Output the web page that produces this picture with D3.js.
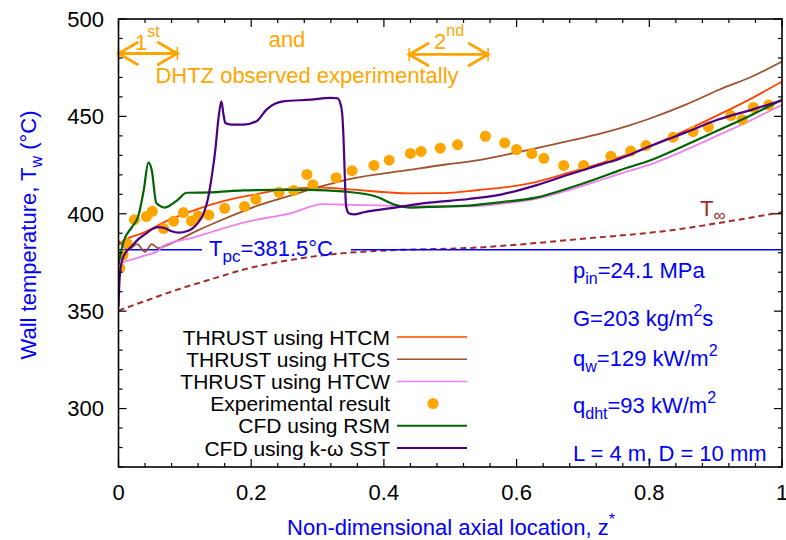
<!DOCTYPE html>
<html><head><meta charset="utf-8">
<script src="https://cdn.jsdelivr.net/npm/d3@7"></script>
<style>body{margin:0;background:#fff} text{font-family:"Liberation Sans",Arial,Helvetica,sans-serif}</style>
</head><body><svg id="c" width="786" height="540"></svg>
<script>
// ---------- data ----------
const zExp = [0.002,0.007,0.013,0.024,0.042,0.051,0.068,0.083,0.098,0.110,0.120,0.136,0.160,0.190,0.207,0.242,0.264,0.284,0.293,0.328,0.352,0.385,0.408,0.440,0.456,0.485,0.511,0.553,0.582,0.600,0.623,0.641,0.671,0.701,0.742,0.772,0.795,0.836,0.866,0.889,0.923,0.940,0.957,0.980];
const tExp = [372.1,378.8,384.8,397.0,398.6,401.3,392.4,396.2,400.6,396.3,398.9,399.4,402.8,403.8,407.4,411.0,412.0,420.2,414.9,418.5,422.1,424.8,427.5,431.0,432.0,433.7,435.5,439.8,436.4,433.0,430.9,428.5,424.8,424.8,429.6,432.2,435.0,439.3,442.2,444.6,450.4,448.3,454.6,455.9];

const zHTCM = [0,0.003,0.037,0.078,0.118,0.158,0.208,0.258,0.308,0.348,0.44,0.49,0.543,0.578,0.629,0.679,0.729,0.769,0.80,0.855,0.905,0.955,1.0];
const tHTCM = [384,385,390.2,397.1,402.3,406.5,410.0,412.9,413.4,412.5,410.5,410.6,412.2,413.4,416.3,421.1,426.2,430.6,434.6,442.8,450.9,459.4,467.9];

const zHTCS = [0,0.015,0.028,0.040,0.050,0.060,0.070,0.088,0.118,0.158,0.208,0.258,0.308,0.348,0.438,0.493,0.543,0.578,0.629,0.679,0.729,0.769,0.80,0.855,0.905,0.955,1.0];
const tHTCS = [386.1,381.8,384.4,380.4,384.4,382.3,383.5,386.1,391.2,397.2,404.0,409.2,414.3,417.8,422.5,425.3,427.5,429.9,433.6,437.4,441.4,445.3,448.8,456.0,463.7,470.5,478.2];

const zHTCW = [0,0.038,0.06,0.067,0.113,0.188,0.263,0.307,0.35,0.39,0.44,0.528,0.578,0.629,0.679,0.729,0.755,0.805,0.855,0.905,0.955,1.0];
const tHTCW = [374.5,378.4,381,383.5,387.8,395.5,400.6,405,404.6,404.3,403.9,403.8,405.2,407.6,412.2,417.6,420.5,425.8,432.8,440.5,448.3,456];

const zRSM = [0,0.003,0.008,0.02,0.03,0.038,0.045,0.05,0.057,0.07,0.087,0.103,0.138,0.188,0.238,0.288,0.338,0.388,0.418,0.44,0.468,0.528,0.578,0.629,0.679,0.729,0.755,0.805,0.855,0.905,0.955,1.0];
const tRSM = [374,379,386,393,399,412,426.3,422.6,405.5,403.2,406.5,410.8,411,412,412.3,412.3,411.5,408.9,404.5,403.2,403.5,404.2,406,408.3,413.2,419.0,422.3,427.9,435.3,443,450.9,458.6];

const zSST = [0,0.001,0.003,0.008,0.02,0.03,0.04,0.05,0.06,0.07,0.08,0.09,0.105,0.12,0.128,0.135,0.14,0.146,0.151,0.155,0.158,0.161,0.17,0.188,0.208,0.223,0.248,0.29,0.32,0.330,0.334,0.337,0.339,0.341,0.343,0.347,0.355,0.37,0.417,0.468,0.528,0.578,0.629,0.679,0.729,0.755,0.80,0.855,0.905,0.955,1.0];
const tSST = [352,362,372,378.5,383.3,387,389.5,392,393.2,392.6,391,390.3,391.3,395.5,400,408,418,433,450,457.7,451.5,446.6,445.8,445.8,447.5,453.5,457.7,458.6,459.5,459.3,457,452,440,420,404,400.3,399.7,400.8,403.2,405.7,407.6,410,414.6,420.2,425.5,428.2,434.5,441.8,448.5,453.5,458.2];

const zInf = [0,0.04,0.09,0.139,0.189,0.254,0.34,0.393,0.543,0.694,0.845,0.905,1.0];
const tInf = [350.3,355.2,361.2,366.3,371.4,376.0,379.8,381.0,382.7,387.0,392.1,395.3,400.8];

const tPc = 381.5;
const xTicks = [0,0.2,0.4,0.6,0.8,1];
const xTickLabels = ["0","0.2","0.4","0.6","0.8","1"];
const yTicks = [300,350,400,450,500];
const yTickLabels = ["300","350","400","450","500"];
const legendLabels = ["THRUST using HTCM","THRUST using HTCS","THRUST using HTCW","Experimental result","CFD using RSM","CFD using k-\u03c9 SST"];

// ---------- layout ----------
const svg = d3.select("#c");
const L = 118.5, R = 782, T = 19, B = 467;
const x = d3.scaleLinear().domain([0,1]).range([L,R]);
const y = d3.scaleLinear().domain([270,500]).range([B,T]);
const FS = 22;
const ORANGE = "#ffa500", BLUE = "#0000ff";

const defs = svg.append("defs");
defs.append("clipPath").attr("id","clip").append("rect").attr("x",L).attr("y",T).attr("width",R-L).attr("height",B-T);
const plot = svg.append("g").attr("clip-path","url(#clip)");

const line = d3.line().x(d=>x(d[0])).y(d=>y(d[1])).curve(d3.curveMonotoneX);
const zip = (a,b)=>a.map((v,i)=>[v,b[i]]);

// T_inf dashed
plot.append("path").attr("d", line(zip(zInf,tInf))).attr("fill","none")
  .attr("stroke","#a52a2a").attr("stroke-width",2).attr("stroke-dasharray","6,4");

// Tpc line (broken around label)
plot.append("line").attr("x1",x(0)).attr("x2",202).attr("y1",y(tPc)).attr("y2",y(tPc)).attr("stroke",BLUE).attr("stroke-width",1.5);
plot.append("line").attr("x1",351).attr("x2",x(1)).attr("y1",y(tPc)).attr("y2",y(tPc)).attr("stroke",BLUE).attr("stroke-width",1.5);

const series = [
  {t:zip(zHTCM,tHTCM),color:"#ff4500",w:1.8},
  {t:zip(zHTCS,tHTCS),color:"#a0522d",w:1.8},
  {t:zip(zHTCW,tHTCW),color:"#ee82ee",w:1.8},
  {dots:zip(zExp,tExp),color:ORANGE},
  {t:zip(zRSM,tRSM),color:"#006400",w:2.2},
  {t:zip(zSST,tSST),color:"#4b0082",w:2.2}
];
series.forEach(s=>{
  if(s.dots){
    plot.selectAll(null).data(s.dots).enter().append("circle")
      .attr("cx",d=>x(d[0])).attr("cy",d=>y(d[1])).attr("r",5.5).attr("fill",s.color);
  } else {
    plot.append("path").attr("d",line(s.t)).attr("fill","none").attr("stroke",s.color)
      .attr("stroke-width",s.w).attr("stroke-linejoin","round");
  }
});

// ---------- orange annotations ----------
function arrow(z1,z2,tv,bars){
  const yy=y(tv), x1=x(z1), x2=x(z2), hl=19, hw=11;
  const g=svg.append("g").attr("stroke",ORANGE).attr("fill","none").attr("stroke-width",2.8).attr("stroke-linecap","round");
  g.append("line").attr("x1",x1).attr("x2",x2).attr("y1",yy).attr("y2",yy);
  g.append("path").attr("d",`M${x1+hl},${yy-hw}L${x1},${yy}L${x1+hl},${yy+hw}`);
  g.append("path").attr("d",`M${x2-hl},${yy-hw}L${x2},${yy}L${x2-hl},${yy+hw}`);
  bars.forEach(b=>{ const bx=b?x2:x1; g.append("line").attr("x1",bx).attr("x2",bx).attr("y1",yy-6).attr("y2",yy+6).attr("stroke-width",1.5);});
}
arrow(0,0.0886,482.3,[0,1]);
arrow(0.438,0.557,481.8,[0,1]);

const t1 = svg.append("text").attr("x",135).attr("y",50).attr("font-size",FS).attr("fill",ORANGE);
t1.append("tspan").text("1");
t1.append("tspan").attr("dy",-13).attr("font-size",16).text("st");
const t2 = svg.append("text").attr("x",434).attr("y",49).attr("font-size",FS).attr("fill",ORANGE);
t2.append("tspan").text("2");
t2.append("tspan").attr("dy",-13).attr("font-size",16).text("nd");
svg.append("text").attr("x",287).attr("y",47).attr("text-anchor","middle").attr("font-size",FS).attr("fill",ORANGE).text("and");
svg.append("text").attr("x",307).attr("y",83).attr("text-anchor","middle").attr("font-size",FS).attr("fill",ORANGE).text("DHTZ observed experimentally");

// Tpc label
const tp = svg.append("text").attr("x",209).attr("y",256).attr("font-size",FS).attr("fill",BLUE);
tp.append("tspan").text("T");
tp.append("tspan").attr("dy",6).attr("font-size",17).text("pc");
tp.append("tspan").attr("dy",-6).text("=381.5\u00b0C");

// T_inf label
const ti = svg.append("text").attr("x",700).attr("y",216).attr("font-size",FS).attr("fill","#a52a2a");
ti.append("tspan").text("T");
ti.append("tspan").attr("dy",5).attr("font-size",17).text("\u221e");

// right blue annotations
function rich(xp,yp,parts){
  const t=svg.append("text").attr("x",xp).attr("y",yp).attr("font-size",FS).attr("fill",BLUE);
  let cur=0;
  parts.forEach(p=>{
    const off=p[1]||0;
    t.append("tspan").attr("dy",off-cur).attr("font-size",off?16:FS).text(p[0]);
    cur=off;
  });
}
rich(573,278,[["p"],["in",6],["=24.1 MPa"]]);
rich(573,326,[["G=203 kg/m"],["2",-10],["s"]]);
rich(573,366,[["q"],["w",6],["=129 kW/m"],["2",-10]]);
rich(573,413,[["q"],["dht",6],["=93 kW/m"],["2",-10]]);
rich(573,461,[["L = 4 m, D = 10 mm"]]);

// ---------- legend ----------
const LFS = 21;
const legG = svg.append("g");
legendLabels.forEach((lab,i)=>{
  const cy = 337 + 22.2*i;
  legG.append("text").attr("x",390).attr("y",cy+7.5).attr("text-anchor","end").attr("font-size",LFS).attr("fill","#000").text(lab);
  const s = series[i];
  if(s.dots) legG.append("circle").attr("cx",433).attr("cy",cy).attr("r",5.5).attr("fill",s.color);
  else legG.append("line").attr("x1",397).attr("x2",467).attr("y1",cy).attr("y2",cy).attr("stroke",s.color).attr("stroke-width",s.w-0.3);
});

// ---------- axes / frame ----------
const ax = svg.append("g").attr("stroke","#000").attr("stroke-width",1.2);
d3.range(0,1.0001,0.04).forEach(v=>{
  const major = xTicks.some(t=>Math.abs(t-v)<1e-6);
  const len = major?8:4;
  ax.append("line").attr("x1",x(v)).attr("x2",x(v)).attr("y1",B).attr("y2",B-len);
  ax.append("line").attr("x1",x(v)).attr("x2",x(v)).attr("y1",T).attr("y2",T+len);
});
d3.range(270,500.001,10).forEach(v=>{
  const major = yTicks.includes(Math.round(v));
  const len = major?8:4;
  ax.append("line").attr("x1",L).attr("x2",L+len).attr("y1",y(v)).attr("y2",y(v));
  ax.append("line").attr("x1",R).attr("x2",R-len).attr("y1",y(v)).attr("y2",y(v));
});
svg.append("rect").attr("x",L).attr("y",T).attr("width",R-L).attr("height",B-T)
  .attr("fill","none").attr("stroke","#000").attr("stroke-width",1.6);

xTicks.forEach((v,i)=>svg.append("text").attr("x",x(v)).attr("y",500).attr("text-anchor","middle")
  .attr("font-size",FS).attr("fill","#000").text(xTickLabels[i]));
yTicks.forEach((v,i)=>svg.append("text").attr("x",104).attr("y",y(v)).attr("dy","0.36em").attr("text-anchor","end")
  .attr("font-size",FS).attr("fill","#000").text(yTickLabels[i]));

// axis titles
const xl = svg.append("text").attr("x",451).attr("y",535).attr("text-anchor","middle").attr("font-size",FS).attr("fill",BLUE);
xl.append("tspan").text("Non-dimensional axial location, z");
xl.append("tspan").attr("dy",-10).attr("font-size",16).text("*");

const yl = svg.append("text").attr("transform","translate(36,235) rotate(-90)").attr("text-anchor","middle").attr("font-size",FS).attr("fill",BLUE);
yl.append("tspan").text("Wall temperature, T");
yl.append("tspan").attr("dy",6).attr("font-size",16).text("w");
yl.append("tspan").attr("dy",-6).text(" (\u00b0C)");
</script></body></html>
